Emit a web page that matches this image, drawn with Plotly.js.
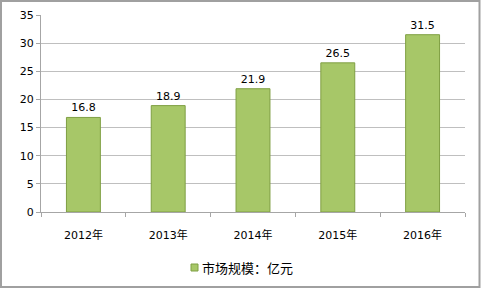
<!DOCTYPE html>
<html><head><meta charset="utf-8">
<script src="https://cdn.plot.ly/plotly-3.0.1.min.js"></script>
<style>html,body{margin:0;padding:0;background:#fff;}</style>
</head><body>
<div id="chart" style="width:483px;height:291px;"></div>
<script>
var categories = ["2012年", "2013年", "2014年", "2015年", "2016年"];
var marketSize = [16.8, 18.9, 21.9, 26.5, 31.5];
var seriesName = "市场规模：亿元";
var yTicks = [0, 5, 10, 15, 20, 25, 30, 35];

var font = "DejaVu Sans, 'Noto Sans CJK SC', sans-serif";
var barColor = "#a7c768", barLine = "#7f9f43";
var trace = {
  type: "bar",
  x: categories,
  y: marketSize,
  name: seriesName,
  text: marketSize.map(function(v){return v.toFixed(1);}),
  textposition: "outside",
  cliponaxis: false,
  textfont: {family: font, size: 11, color: "#000"},
  marker: {color: barColor, line: {color: barLine, width: 1}},
  hoverinfo: "none"
};
var L = 41, R = 465, T = 15, B = 212;
function px(x){return (x - L)/(R - L);}
function py(y){return (B - y)/(B - T);}
var layout = {
  width: 483, height: 291,
  margin: {l: L, r: 483 - R, t: T, b: 291 - B},
  paper_bgcolor: "#fff", plot_bgcolor: "#fff",
  bargap: 0.6,
  showlegend: false,
  xaxis: {type: "category", showline: true, linecolor: "#a6a6a6", linewidth: 1,
          ticks: "outside", tickson: "boundaries", ticklen: 4, tickcolor: "#a6a6a6",
          tickfont: {family: font, size: 11, color: "#000"}, ticklabelstandoff: 13,
          showgrid: false, fixedrange: true},
  yaxis: {range: [0, 35], tickvals: yTicks, showline: true, linecolor: "#a6a6a6", linewidth: 1,
          ticks: "outside", ticklen: 4, tickcolor: "#a6a6a6",
          gridcolor: "#bfbfbf", gridwidth: 1, zeroline: false,
          tickfont: {family: font, size: 11, color: "#000"}, fixedrange: true},
  shapes: [
    {type: "rect", xref: "paper", yref: "paper",
     x0: px(1), x1: px(479.5), y0: py(287), y1: py(1),
     line: {color: "#a0a0a0", width: 2}, fillcolor: "rgba(0,0,0,0)", layer: "below"},
    {type: "rect", xref: "paper", yref: "paper",
     x0: px(191), x1: px(198), y0: py(271), y1: py(264),
     line: {color: barLine, width: 1}, fillcolor: barColor}
  ],
  annotations: [
    {xref: "paper", yref: "paper", x: px(200), y: py(267.5), xanchor: "left", yanchor: "middle",
     text: seriesName, showarrow: false,
     font: {family: "'Noto Sans CJK SC', sans-serif", size: 13, color: "#000"}}
  ]
};
Plotly.newPlot("chart", [trace], layout, {displayModeBar: false, staticPlot: true});
</script>
</body></html>
